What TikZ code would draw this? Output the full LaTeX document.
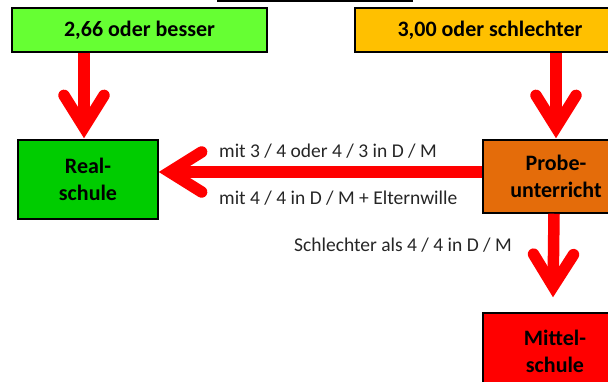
\documentclass[tikz,border=0pt]{standalone}
\usepackage{fontspec}
\setmainfont{Carlito}
\usetikzlibrary{arrows.meta}
\definecolor{lgreen}{HTML}{66FF33}
\definecolor{dgreen}{HTML}{00CC00}
\definecolor{gold}{HTML}{FFC000}
\definecolor{orng}{HTML}{E46C0A}
\definecolor{rred}{HTML}{FF0000}
\definecolor{txt}{HTML}{262626}
\tikzset{
  box/.style={draw=black, line width=1.5pt, inner sep=0pt, align=center,
    font=\fontsize{22}{27}\selectfont\bfseries, text=black},
  lab/.style={inner sep=0pt, anchor=base west, text=txt,
    font=\fontsize{19.5}{23}\selectfont},
  bigarrow/.style={draw=rred, line width=11.5pt,
    -{Straight Barb[length=32pt, width=40pt, line cap=round, line join=miter]}}
}
\begin{document}
\begin{tikzpicture}[x=1pt, y=-1pt]
\useasboundingbox (0,0) rectangle (608,382);
\draw[line width=1.5pt] (217,0.8) -- (413,0.8);
\node[box, fill=lgreen, minimum width=255pt, minimum height=44pt] (g) at (139.5,30) {2,66 oder besser};
\node[box, fill=gold, minimum width=270pt, minimum height=44pt] (o) at (490,30) {3,00 oder schlechter};
\node[box, fill=dgreen, minimum width=140pt, minimum height=79pt] (r) at (88,179.5) {Real-\\schule};
\node[box, fill=orng, minimum width=146pt, minimum height=73pt] (p) at (556,176.5) {Probe-\\unterricht};
\node[box, fill=rred, minimum width=144pt, minimum height=77pt] (m) at (555,351.5) {Mittel-\\schule};
\draw[bigarrow] ([xshift=-4pt]r.north |- g.south) -- ([xshift=-4pt,yshift=1pt]r.north);
\draw[bigarrow] (p.north |- o.south) -- ([yshift=1pt]p.north);
\draw[bigarrow] ([yshift=4.5pt]p.west) -- ([yshift=4.5pt]p.west -| r.east);
\draw[bigarrow] ([xshift=-2pt]p.south) -- ([xshift=-2pt,yshift=15pt]m.north);
\node[lab] (t1) at (219,158) {mit 3 / 4 oder 4 / 3 in D / M};
\node[lab] (t2) at (219,205) {mit 4 / 4 in D / M + Elternwille};
\node[lab] (t3) at (294,252) {Schlechter als 4 / 4 in D / M};
\end{tikzpicture}
\end{document}
